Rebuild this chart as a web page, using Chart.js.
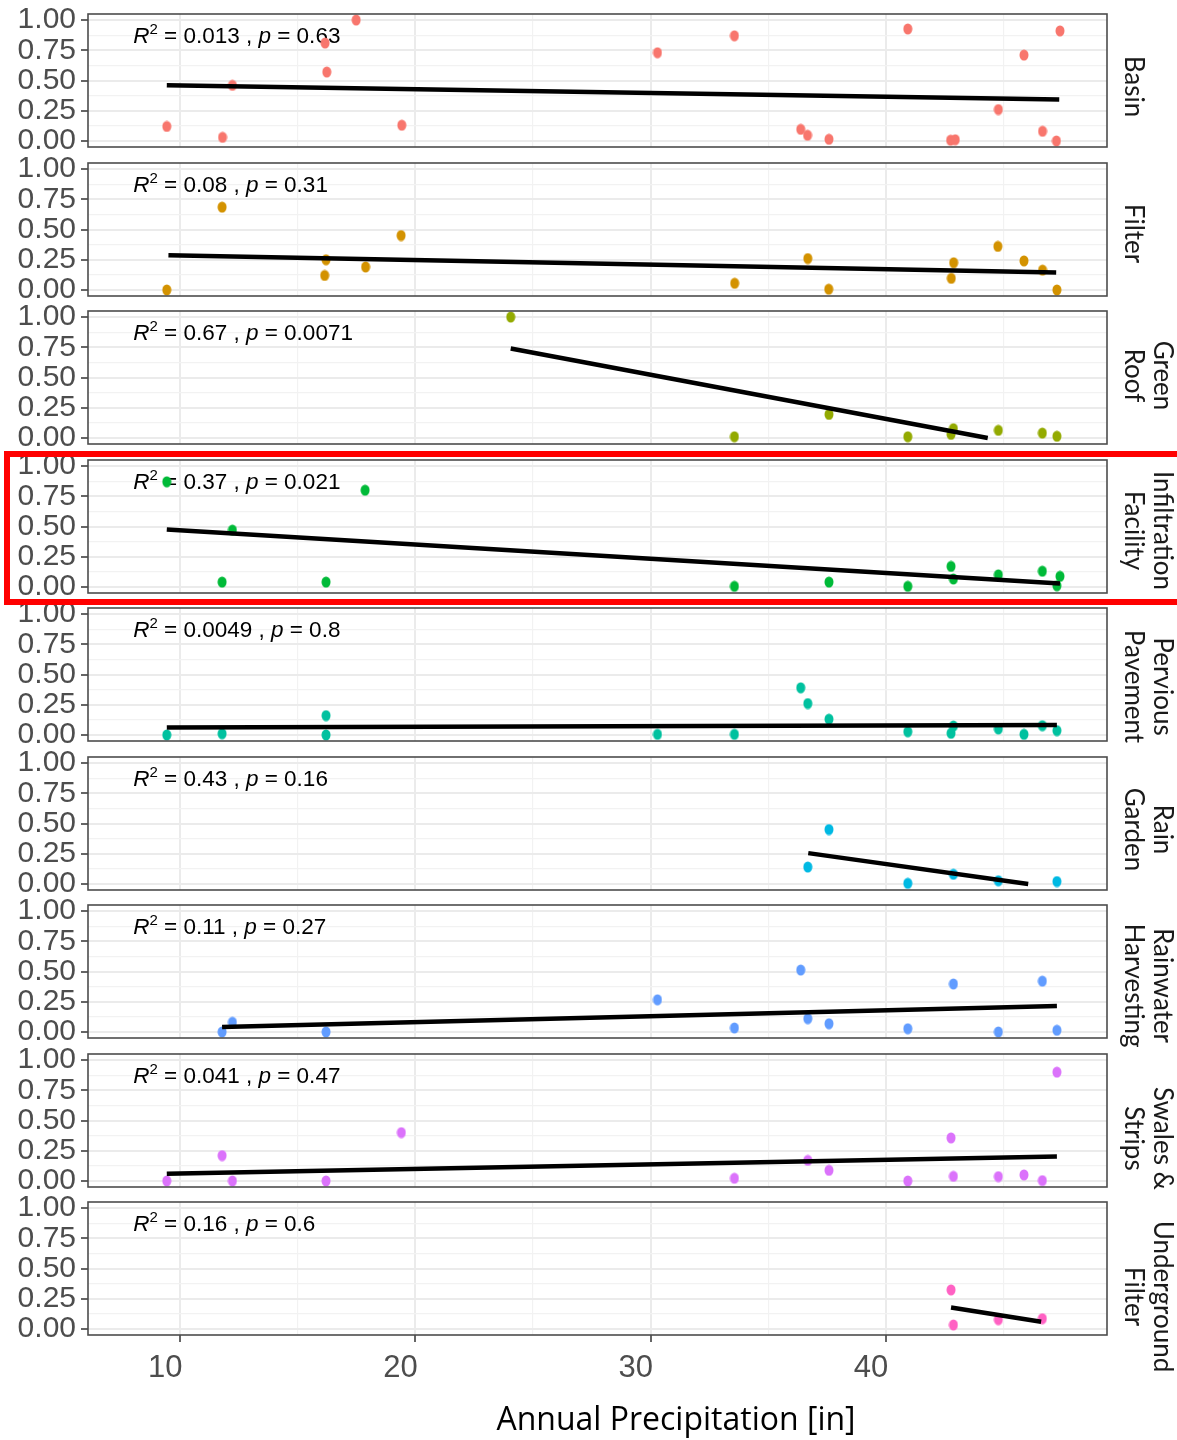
<!DOCTYPE html>
<html>
<head>
<meta charset="utf-8">
<title>Annual Precipitation by facility type</title>
<script src="https://cdn.jsdelivr.net/npm/chart.js@4.4.3/dist/chart.umd.min.js"></script>
<style>
    html, body {
        margin: 0;
        padding: 0;
        background: #fff;
        overflow: hidden;
    }

    body {
        width: 1177px;
        height: 1440px;
        position: relative;
    }

    canvas {
        position: absolute;
        left: 0;
    }

    .highlight {
        position: absolute;
        left: 4px;
        top: 451px;
        width: 1300px;
        height: 142px;
        border: 6px solid #ff0000;
        pointer-events: none;
    }
</style>
</head>
<body>
<div class="highlight"></div>
<script>
    // facet strips (one or two lines), colours and the stat labels
    const facetNames = [['Basin'], ['Filter'], ['Green', 'Roof'], ['Infiltration', 'Facility'],
        ['Pervious', 'Pavement'], ['Rain', 'Garden'], ['Rainwater', 'Harvesting'], ['Swales &', 'Strips'],
        ['Underground', 'Filter']]
    const facetColors = ['#F8766D', '#D39200', '#93AA00', '#00BA38', '#00C19F', '#00B9E3', '#619CFF', '#DB72FB', '#FF61C3']
    const r2Text = ['0.013', '0.08', '0.67', '0.37', '0.0049', '0.43', '0.11', '0.041', '0.16']
    const pText = ['0.63', '0.31', '0.0071', '0.021', '0.8', '0.16', '0.27', '0.47', '0.6']

    // annual precipitation [in] and value, per facet
    const basinX = [9.43, 11.8, 12.22, 16.16, 16.23, 17.48, 19.42, 30.29, 33.56, 36.38, 36.67, 37.58, 40.93, 42.75, 42.95, 44.78, 45.87, 46.66, 47.25, 47.4]
    const basinY = [0.12, 0.03, 0.46, 0.81, 0.57, 1.0, 0.13, 0.73, 0.87, 0.096, 0.047, 0.014, 0.926, 0.006, 0.01, 0.26, 0.71, 0.08, 0.0, 0.91]
    const filterX = [9.43, 11.78, 16.14, 16.2, 17.88, 19.39, 33.57, 36.68, 37.57, 42.78, 42.88, 44.76, 45.87, 46.66, 47.27]
    const filterY = [0.0, 0.685, 0.12, 0.25, 0.19, 0.45, 0.055, 0.26, 0.006, 0.096, 0.225, 0.36, 0.24, 0.164, 0.0]
    const greenRoofX = [24.05, 33.56, 37.58, 40.93, 42.77, 42.87, 44.78, 46.65, 47.27]
    const greenRoofY = [1.0, 0.01, 0.195, 0.01, 0.03, 0.077, 0.063, 0.04, 0.014]
    const infiltrationX = [9.43, 11.78, 12.22, 16.2, 17.86, 33.56, 37.58, 40.93, 42.77, 42.87, 44.78, 46.65, 47.27, 47.4]
    const infiltrationY = [0.87, 0.04, 0.47, 0.04, 0.80, 0.005, 0.04, 0.005, 0.17, 0.066, 0.1, 0.13, 0.01, 0.088]
    const perviousX = [9.43, 11.78, 16.2, 16.2, 30.29, 33.56, 36.38, 36.68, 37.58, 40.93, 42.77, 42.87, 44.78, 45.87, 46.65, 47.27]
    const perviousY = [0.0, 0.01, 0.16, 0.0, 0.005, 0.005, 0.39, 0.26, 0.13, 0.027, 0.014, 0.074, 0.05, 0.005, 0.077, 0.036]
    const rainGardenX = [36.68, 37.58, 40.93, 42.87, 44.78, 47.27]
    const rainGardenY = [0.14, 0.45, 0.005, 0.08, 0.027, 0.02]
    const rainwaterX = [11.78, 12.22, 16.2, 30.29, 33.56, 36.38, 36.68, 37.58, 40.93, 42.87, 44.78, 46.65, 47.27]
    const rainwaterY = [0.0, 0.08, 0.0, 0.266, 0.033, 0.512, 0.11, 0.068, 0.027, 0.397, 0.0, 0.42, 0.014]
    const swalesX = [9.43, 11.78, 12.22, 16.2, 19.4, 33.56, 36.68, 37.58, 40.93, 42.77, 42.87, 44.78, 45.87, 46.65, 47.27]
    const swalesY = [0.0, 0.21, 0.0, 0.0, 0.40, 0.022, 0.17, 0.088, 0.0, 0.356, 0.038, 0.036, 0.05, 0.003, 0.90]
    const undergroundX = [42.77, 42.87, 44.78, 46.65]
    const undergroundY = [0.323, 0.033, 0.077, 0.085]

    // fitted line end points [x, y] for each facet
    const fitLines = [
        [[9.43, 0.46], [47.37, 0.343]],
        [[9.5, 0.288], [47.24, 0.145]],
        [[24.05, 0.74], [44.33, 0.0]],
        [[9.43, 0.475], [47.4, 0.028]],
        [[9.43, 0.062], [47.27, 0.082]],
        [[36.7, 0.255], [46.05, 0.0]],
        [[11.78, 0.04], [47.27, 0.214]],
        [[9.43, 0.06], [47.27, 0.203]],
        [[42.77, 0.178], [46.6, 0.06]]
    ]

    const panelX = [basinX, filterX, greenRoofX, infiltrationX, perviousX, rainGardenX, rainwaterX, swalesX, undergroundX]
    const panelY = [basinY, filterY, greenRoofY, infiltrationY, perviousY, rainGardenY, rainwaterY, swalesY, undergroundY]

    // axis ticks
    const yGridVals = [0, 0.125, 0.25, 0.375, 0.5, 0.625, 0.75, 0.875, 1]
    const yLabelVals = [0, 0.25, 0.5, 0.75, 1]
    const xGridVals = [10, 15, 20, 25, 30, 35, 40, 45]
    const xLabelVals = [10, 20, 30, 40]

    const PANEL_TOP = 14
    const PANEL_STEP = 148.5
    const PANEL_H = 133
    const PAD = 30
    // strip text sits a little below the panel middle in the original
    const stripShift = [6, 4, -2, 4, 12, 6, 14, 18, 28]

    function dotImage(color) {
        const c = document.createElement('canvas')
        c.width = 10
        c.height = 12
        const g = c.getContext('2d')
        g.fillStyle = color
        g.beginPath()
        g.ellipse(5, 6, 4.5, 5.5, 0, 0, Math.PI * 2)
        g.fill()
        return c
    }

    function drawStat(ctx, x, y, r2, p) {
        let cx = x
        const piece = (t, font, dy) => {
            ctx.font = font
            ctx.fillText(t, cx, y + (dy || 0))
            cx += ctx.measureText(t).width
        }
        ctx.save()
        ctx.fillStyle = '#000'
        ctx.textAlign = 'left'
        ctx.textBaseline = 'alphabetic'
        piece('R', 'italic 22.5px "Liberation Sans"')
        piece('2', '15px "Liberation Sans"', -9)
        piece(' = ' + r2 + ' , ', '22.5px "Liberation Sans"')
        piece('p', 'italic 22.5px "Liberation Sans"')
        piece(' = ' + p, '22.5px "Liberation Sans"')
        ctx.restore()
    }

    const facetPlugin = {
        id: 'facet',
        beforeDatasetsDraw(chart, args, opts) {
            const i = opts.index
            drawStat(chart.ctx, chart.scales.x.getPixelForValue(8.0), chart.chartArea.top + 29, r2Text[i], pText[i])
        },
        afterDraw(chart, args, opts) {
            const ctx = chart.ctx
            const a = chart.chartArea
            const i = opts.index

            ctx.save()
            ctx.strokeStyle = '#4D4D4D'
            ctx.lineWidth = 1.6
            ctx.strokeRect(a.left, a.top, a.right - a.left, a.bottom - a.top)

            // strip label, rotated clockwise
            const lines = facetNames[i]
            const cy = (a.top + a.bottom) / 2 + stripShift[i]
            ctx.font = '26px Lato'
            ctx.fillStyle = '#1A1A1A'
            ctx.textAlign = 'center'
            ctx.textBaseline = 'alphabetic'
            lines.forEach((ln, k) => {
                const bx = lines.length === 1 ? 1125 : (k === 0 ? 1154 : 1125)
                ctx.save()
                ctx.translate(bx, cy)
                ctx.rotate(Math.PI / 2)
                ctx.fillText(ln, 0, 0)
                ctx.restore()
            })

            if (opts.last) {
                ctx.font = '32px "Open Sans"'
                ctx.fillStyle = '#000'
                ctx.textAlign = 'center'
                ctx.textBaseline = 'middle'
                ctx.fillText('Annual Precipitation [in]', 676, chart.height - 19)
            }
            ctx.restore()
        }
    }

    const isMajor = (vals, c) => c.tick && vals.includes(c.tick.value)

    facetNames.forEach((name, i) => {
        const last = i === facetNames.length - 1
        const top = Math.round(PANEL_TOP + i * PANEL_STEP) - PAD
        const h = last ? 1440 - top : PAD + PANEL_H + PAD

        const cv = document.createElement('canvas')
        cv.width = 1177
        cv.height = h
        cv.style.top = top + 'px'
        document.body.insertBefore(cv, document.querySelector('.highlight'))

        const pts = panelX[i].map((x, k) => ({ x: x, y: panelY[i][k] }))
        const fit = fitLines[i].map(p => ({ x: p[0], y: p[1] }))

        new Chart(cv, {
            type: 'scatter',
            data: {
                datasets: [
                    {
                        data: fit,
                        showLine: true,
                        borderColor: '#000',
                        borderWidth: 4.5,
                        borderCapStyle: 'butt',
                        pointRadius: 0,
                        order: 0
                    },
                    {
                        data: pts,
                        pointStyle: dotImage(facetColors[i]),
                        pointRadius: 5,
                        order: 1
                    }
                ]
            },
            options: {
                responsive: false,
                animation: false,
                devicePixelRatio: 1,
                layout: { padding: { left: 0, right: 70, top: PAD, bottom: last ? 0 : PAD } },
                plugins: {
                    legend: { display: false },
                    tooltip: { enabled: false },
                    facet: { index: i, last: last }
                },
                scales: {
                    x: {
                        type: 'linear',
                        min: 6.08,
                        max: 49.4,
                        afterBuildTicks: s => { s.ticks = xGridVals.map(v => ({ value: v })) },
                        afterFit: s => { s.height = last ? 105 : 0 },
                        border: { display: false },
                        grid: {
                            color: c => isMajor(xLabelVals, c) ? '#EBEBEB' : '#F2F2F2',
                            lineWidth: c => isMajor(xLabelVals, c) ? 2 : 1.2,
                            drawTicks: last,
                            tickLength: 7,
                            tickWidth: 1.5,
                            tickColor: c => isMajor(xLabelVals, c) ? '#333333' : 'rgba(0,0,0,0)'
                        },
                        ticks: {
                            display: last,
                            autoSkip: false,
                            maxRotation: 0,
                            labelOffset: -15,
                            padding: 8,
                            color: '#4D4D4D',
                            font: { family: 'Liberation Sans', size: 31 },
                            callback: v => xLabelVals.includes(v) ? String(v) : ''
                        }
                    },
                    y: {
                        min: -0.05,
                        max: 1.05,
                        afterBuildTicks: s => { s.ticks = yGridVals.map(v => ({ value: v })) },
                        afterFit: s => { s.width = 88 },
                        border: { display: false },
                        grid: {
                            color: c => isMajor(yLabelVals, c) ? '#EBEBEB' : '#F2F2F2',
                            lineWidth: c => isMajor(yLabelVals, c) ? 2 : 1.2,
                            tickLength: 7,
                            tickWidth: 1.5,
                            tickColor: c => isMajor(yLabelVals, c) ? '#333333' : 'rgba(0,0,0,0)'
                        },
                        ticks: {
                            autoSkip: false,
                            padding: 5,
                            color: '#4D4D4D',
                            font: { family: 'Liberation Sans', size: 30 },
                            callback: v => yLabelVals.includes(v) ? v.toFixed(2) : ''
                        }
                    }
                }
            },
            plugins: [facetPlugin]
        })
    })
</script>
</body>
</html>
